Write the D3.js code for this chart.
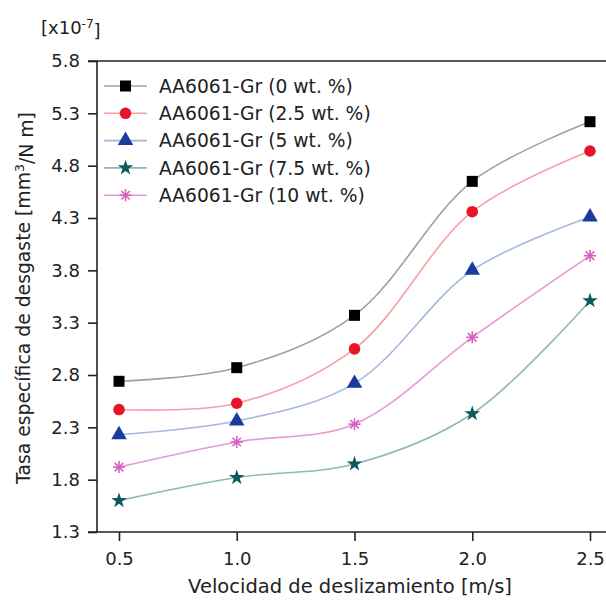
<!DOCTYPE html>
<html><head><meta charset="utf-8">
<script src="https://cdn.jsdelivr.net/npm/d3@7"></script>
<style>body{margin:0;background:#fff}svg{display:block}</style>
</head><body>
<svg id="c" width="606" height="601"></svg>
<script>
const velocities = [0.5, 1.0, 1.5, 2.0, 2.5];
const seriesNames = ["AA6061-Gr (0 wt. %)","AA6061-Gr (2.5 wt. %)","AA6061-Gr (5 wt. %)","AA6061-Gr (7.5 wt. %)","AA6061-Gr (10 wt. %)"];
const gr0   = [2.74, 2.87, 3.37, 4.65, 5.22];
const gr2_5 = [2.47, 2.53, 3.05, 4.36, 4.94];
const gr5   = [2.23, 2.36, 2.72, 3.80, 4.31];
const gr7_5 = [1.60, 1.82, 1.95, 2.43, 3.51];
const gr10  = [1.92, 2.16, 2.33, 3.16, 3.94];
const yTicks = [1.3, 1.8, 2.3, 2.8, 3.3, 3.8, 4.3, 4.8, 5.3, 5.8];
const xTicks = [0.5, 1.0, 1.5, 2.0, 2.5];

(function () {
const seriesValues = [gr0, gr2_5, gr5, gr7_5, gr10];
const lineColors = ["#a0a0a0", "#f4a0a6", "#a4b8e0", "#8fb8b6", "#e49ad8"];
const markColors = ["#000000", "#e8142a", "#1a3c9c", "#0d5a5c", "#d55fc0"];
const shapes = ["square", "circle", "triangle", "star", "asterisk"];

const svg = d3.select("#c");
const font = "'DejaVu Sans', Verdana, sans-serif";
const textColor = "#222";
const x = d3.scaleLinear().domain([0.5, 2.5]).range([119, 590]);
const y = d3.scaleLinear().domain([1.3, 5.8]).range([532, 61]);
const plotLeft = 97, plotTop = 61, plotBottom = 532;

function drawMarker(g, shape, color, cx, cy) {
  if (shape === "square") {
    g.append("rect").attr("x", cx-5.5).attr("y", cy-5.5).attr("width", 11).attr("height", 11).attr("fill", color);
  } else if (shape === "circle") {
    g.append("circle").attr("cx", cx).attr("cy", cy).attr("r", 5.8).attr("fill", color);
  } else if (shape === "triangle") {
    g.append("path").attr("d", d3.symbol(d3.symbolTriangle, 105)()).attr("transform", `translate(${cx},${cy})`).attr("fill", color);
  } else if (shape === "star") {
    g.append("path").attr("d", d3.symbol(d3.symbolStar, 75)()).attr("transform", `translate(${cx},${cy})`).attr("fill", color);
  } else {
    const r = 6;
    const p = g.append("g").attr("stroke", color).attr("stroke-width", 1.6);
    for (let k = 0; k < 4; k++) {
      const a = k * Math.PI / 4;
      p.append("line").attr("x1", cx - r*Math.cos(a)).attr("y1", cy - r*Math.sin(a))
        .attr("x2", cx + r*Math.cos(a)).attr("y2", cy + r*Math.sin(a));
    }
  }
}

const axisG = svg.append("g");
axisG.append("line").attr("x1", 88).attr("x2", 606).attr("y1", plotTop).attr("y2", plotTop).attr("stroke", "#222").attr("stroke-width", 1.6);
axisG.append("line").attr("x1", 88).attr("x2", 606).attr("y1", plotBottom).attr("y2", plotBottom).attr("stroke", "#222").attr("stroke-width", 1.6);
axisG.append("line").attr("x1", plotLeft).attr("x2", plotLeft).attr("y1", plotTop).attr("y2", plotBottom).attr("stroke", "#222").attr("stroke-width", 1.6);

const yAxis = d3.axisLeft(y).tickValues(yTicks).tickFormat(d3.format(".1f")).tickSize(9).tickPadding(8);
const yg = svg.append("g").attr("transform", `translate(${plotLeft},0)`).call(yAxis);
const xAxis = d3.axisBottom(x).tickValues(xTicks).tickFormat(d3.format(".1f")).tickSize(9).tickPadding(11);
const xg = svg.append("g").attr("transform", `translate(0,${plotBottom})`).call(xAxis);
[yg, xg].forEach(g => {
  g.select(".domain").remove();
  g.selectAll(".tick line").attr("stroke", "#222").attr("stroke-width", 1.6);
  g.selectAll(".tick text").attr("fill", textColor).style("font-family", font).style("font-size", "18px");
});

const line = d3.line().x((d, i) => x(velocities[i])).y(d => y(d)).curve(d3.curveCatmullRom);
seriesValues.forEach((vals, s) => {
  svg.append("path").attr("d", line(vals)).attr("fill", "none").attr("stroke", lineColors[s]).attr("stroke-width", 1.6);
});
seriesValues.forEach((vals, s) => {
  const g = svg.append("g");
  vals.forEach((v, i) => drawMarker(g, shapes[s], markColors[s], x(velocities[i]), y(v)));
});

const leg = svg.append("g");
seriesNames.forEach((name, s) => {
  const ly = 86 + s * 27.3;
  leg.append("line").attr("x1", 104).attr("x2", 147).attr("y1", ly).attr("y2", ly).attr("stroke", lineColors[s]).attr("stroke-width", 1.6);
  drawMarker(leg, shapes[s], markColors[s], 125.5, ly);
  leg.append("text").attr("x", 159).attr("y", ly).attr("dy", "0.36em").attr("fill", textColor)
    .style("font-family", font).style("font-size", "18.7px").text(name);
});

svg.append("text").attr("x", 350).attr("y", 593).attr("text-anchor", "middle").attr("fill", textColor)
  .style("font-family", font).style("font-size", "19.5px").text("Velocidad de deslizamiento [m/s]");
const yt = svg.append("text").attr("transform", "translate(30,298) rotate(-90)").attr("text-anchor", "middle").attr("fill", textColor)
  .style("font-family", font).style("font-size", "18.8px");
yt.append("tspan").text("Tasa específica de desgaste [mm");
yt.append("tspan").attr("dy", "-0.45em").style("font-size", "12.5px").text("3");
yt.append("tspan").attr("dy", "0.45em").text("/N m]");

const mult = svg.append("text").attr("x", 41).attr("y", 34).attr("fill", textColor).style("font-family", font).style("font-size", "18px");
mult.append("tspan").text("[x10");
mult.append("tspan").attr("dy", "-0.5em").style("font-size", "12px").text("-7");
mult.append("tspan").attr("dy", "0.5em").text("]");
})();
</script>
</body></html>
